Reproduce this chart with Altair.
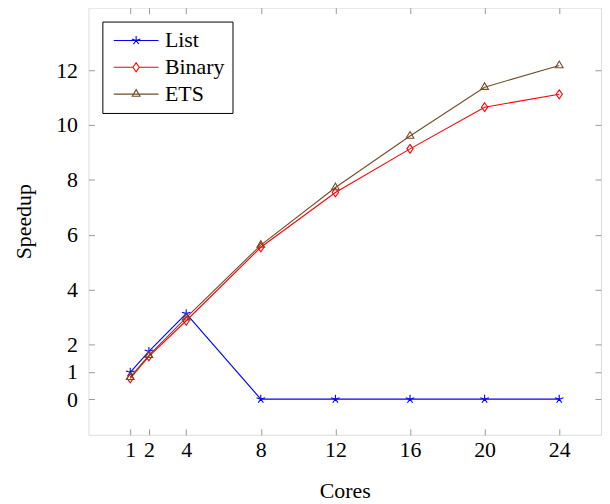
import altair as alt
import pandas as pd

cores = [1, 2, 4, 8, 12, 16, 20, 24]
series_names = ["List", "Binary", "ETS"]
list_speedup = [0.98, 1.74, 3.12, 0.0, 0.0, 0.0, 0.0, 0.0]
binary_speedup = [0.76, 1.56, 2.86, 5.54, 7.54, 9.13, 10.65, 11.12]
ets_speedup = [0.80, 1.60, 2.97, 5.62, 7.72, 9.60, 11.38, 12.17]
colors = ["#0000ff", "#ff0000", "#734d26"]
x_ticks = [1, 2, 4, 8, 12, 16, 20, 24]
y_ticks = [0, 1, 2, 4, 6, 8, 10, 12]

rows = []
for name, vals in zip(series_names, [list_speedup, binary_speedup, ets_speedup]):
    for c, v in zip(cores, vals):
        rows.append({"Cores": c, "Speedup": v, "series": name})
df = pd.DataFrame(rows)

FONT = "Liberation Serif"
FS = 22
star = "M0,-1L0,0M0.951,-0.309L0,0M0.588,0.809L0,0M-0.588,0.809L0,0M-0.951,-0.309L0,0"
diamond = "M0,-1L0.7,0L0,1L-0.7,0Z"
triangle = "M0,-1L0.866,0.5L-0.866,0.5Z"
# legend symbols: size 144 -> 6px per unit; line spans 45px, marker radius ~4.5px
L = 3.75
s = 0.75
leg_star = ("M-{L},0H{L}" + "M0,-{a}L0,0M{b},-{c}L0,0M{d},{e}L0,0M-{d},{e}L0,0M-{b},-{c}L0,0").format(
    L=L, a=s, b=round(0.951 * s, 3), c=round(0.309 * s, 3), d=round(0.588 * s, 3), e=round(0.809 * s, 3))
leg_diamond = "M-{L},0H-{w}M{w},0H{L}M0,-{h}L{w},0L0,{h}L-{w},0Z".format(L=L, w=round(0.7 * s, 3), h=s)
leg_tri = "M-{L},0H{L}M0,-{h}L{w},{k}L-{w},{k}Z".format(L=L, h=s, w=round(0.866 * s, 3), k=round(0.5 * s, 3))

xs = alt.Scale(domain=[-1.24, 26.24], nice=False, zero=False)
ys = alt.Scale(domain=[-1.3, 14.28], nice=False, zero=False)
cs = alt.Scale(domain=series_names, range=colors)

x_bottom = alt.Axis(values=x_ticks, orient="bottom", offset=-6, tickSize=6, domain=False,
                    grid=False, labelPadding=5, title="Cores", titlePadding=20,
                    labelFont=FONT, labelFontSize=FS, titleFont=FONT, titleFontSize=FS,
                    titleFontWeight="normal", tickColor="#999999", labelColor="black")
y_left = alt.Axis(values=y_ticks, orient="left", offset=-6, tickSize=6, domain=False,
                  grid=False, labelPadding=11, title="Speedup", titlePadding=20,
                  labelFont=FONT, labelFontSize=FS, titleFont=FONT, titleFontSize=FS,
                  titleFontWeight="normal", tickColor="#999999", labelColor="black")
x_top = alt.Axis(values=x_ticks, orient="top", offset=-6, tickSize=6, domain=False,
                 grid=False, labels=False, title=None, tickColor="#999999")
y_right = alt.Axis(values=y_ticks, orient="right", offset=-6, tickSize=6, domain=False,
                   grid=False, labels=False, title=None, tickColor="#999999")

legend_props = dict(
    title=None, orient="top-left", offset=14, symbolOpacity=1, symbolSize=144,
    symbolStrokeWidth=1.1, symbolFillColor="transparent", symbolOffset=15,
    labelFont=FONT, labelFontSize=FS, labelColor="black", labelOffset=18,
    strokeColor="black", fillColor="white", padding=8, rowPadding=5,
    cornerRadius=0, labelLimit=200)

base = alt.Chart(df)

lines = base.mark_line(strokeWidth=1.1).encode(
    x=alt.X("Cores:Q", scale=xs, axis=x_bottom),
    y=alt.Y("Speedup:Q", scale=ys, axis=y_left),
    color=alt.Color("series:N", scale=cs, legend=None),
    detail="series:N",
)

points = base.mark_point(filled=False, size=81, strokeWidth=1.1, opacity=1).encode(
    x=alt.X("Cores:Q", scale=xs, axis=x_top),
    y=alt.Y("Speedup:Q", scale=ys, axis=y_right),
    color=alt.Color("series:N", scale=cs, legend=None),
    shape=alt.Shape("series:N", scale=alt.Scale(domain=series_names, range=[star, diamond, triangle]),
                    legend=None),
)

legend_layer = base.mark_point(filled=False, opacity=0, size=144).encode(
    x=alt.X("Cores:Q", scale=xs, axis=None),
    y=alt.Y("Speedup:Q", scale=ys, axis=None),
    color=alt.Color("series:N", scale=cs, legend=alt.Legend(**legend_props)),
    shape=alt.Shape("series:N", scale=alt.Scale(domain=series_names, range=[leg_star, leg_diamond, leg_tri]),
                    legend=alt.Legend(**legend_props)),
)

chart = alt.layer(lines, points, legend_layer).resolve_scale(
    shape="independent"
).resolve_legend(
    color="independent", shape="independent"
).resolve_axis(
    x="independent", y="independent"
).properties(
    width=516, height=430,
    padding={"left": 5, "top": -3, "right": 0, "bottom": 0},
).configure_view(stroke="black", strokeWidth=1.2).configure(background="white")

chart.save("out.html", embed_options={"renderer": "svg", "actions": False})
